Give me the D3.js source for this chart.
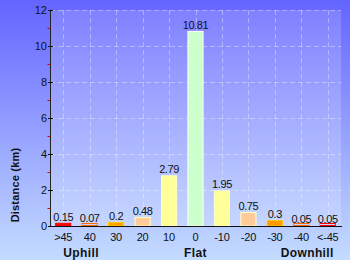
<!DOCTYPE html>
<html lang="en">
<head>
    <meta charset="UTF-8">
    <title>Distance by gradient</title>
    <style>
        body { margin: 0; overflow: hidden; }
        svg { display: block; font-family: 'Liberation Sans', Arial, sans-serif; }
        .grid line { stroke: rgba(255, 255, 255, 0.35); stroke-width: 1; stroke-dasharray: 5 3; }
        .tick-label { font-size: 11px; fill: #111; }
        .value { font-size: 11px; fill: #111; letter-spacing: -0.4px; }
        .group { font-size: 12px; font-weight: bold; fill: #111; letter-spacing: 0.4px; }
    </style>
</head>
<body>
    <svg id="chart" width="350" height="260">
        <defs>
            <linearGradient id="bg" x1="0" y1="0" x2="0" y2="1">
                <stop offset="0%" stop-color="#6464ff" />
                <stop offset="100%" stop-color="#c4dcff" />
            </linearGradient>
            <linearGradient id="plotBg" x1="0" y1="0" x2="0" y2="1">
                <stop offset="0%" stop-color="#ffffff" stop-opacity="0.16" />
                <stop offset="100%" stop-color="#ffffff" stop-opacity="0.2" />
            </linearGradient>
        </defs>
    </svg>
    <script src="https://d3js.org/d3.v7.min.js"></script>
    <script>
        // data
        const categories = [">45", "40", "30", "20", "10", "0", "-10", "-20", "-30", "-40", "<-45"];
        const distances = [0.15, 0.07, 0.2, 0.48, 2.79, 10.81, 1.95, 0.75, 0.3, 0.05, 0.05];
        const barColors = ["#ff0000", "#ff6600", "#ffa000", "#ffcc99", "#ffff99", "#ccffcc",
                           "#ffff99", "#ffcc99", "#ff9900", "#ff6600", "#ff0000"];
        const yTicks = [0, 2, 4, 6, 8, 10, 12];
        const yMinorTicks = [1, 3, 5, 7, 9, 11];
        const groupLabels = ["Uphill", "Flat", "Downhill"];

        const svg = d3.select("#chart"),
            width = 350,
            height = 260,
            margin = {top: 10, right: 9, bottom: 34, left: 50},
            plotW = width - margin.left - margin.right,
            plotH = height - margin.top - margin.bottom;

        svg.append("rect").attr("width", width).attr("height", height).attr("fill", "url(#bg)");

        const g = svg.append("g").attr("transform", `translate(${margin.left},${margin.top})`);

        const x = d3.scaleBand().domain(categories).range([0, plotW]).paddingInner(0.39).paddingOuter(0.195);
        const y = d3.scaleLinear().domain([0, 12]).range([plotH, 0]);
        const xc = d => x(d) + x.bandwidth() / 2;

        // plot background
        g.append("rect").attr("width", plotW).attr("height", plotH).attr("fill", "url(#plotBg)");

        // grid
        const grid = g.append("g").attr("class", "grid");
        grid.selectAll(".h").data(yTicks.filter(d => d > 0)).enter().append("line")
            .attr("x1", 0).attr("x2", plotW)
            .attr("y1", d => y(d) + 0.5).attr("y2", d => y(d) + 0.5);
        grid.selectAll(".v").data(categories).enter().append("line")
            .attr("x1", d => Math.round(xc(d)) + 0.5).attr("x2", d => Math.round(xc(d)) + 0.5)
            .attr("y1", 0).attr("y2", plotH);

        // bars - very short ones only show their coloured outline
        const tiny = d => plotH - y(d) < 2;
        g.selectAll(".bar").data(distances).enter().append("rect")
            .attr("x", (d, i) => x(categories[i]) + 0.5)
            .attr("y", d => tiny(d) ? plotH - 2.5 : y(d))
            .attr("width", x.bandwidth() - 1)
            .attr("height", d => tiny(d) ? 2 : plotH - y(d))
            .attr("fill", (d, i) => tiny(d) ? "none" : barColors[i])
            .attr("stroke", (d, i) => tiny(d) ? barColors[i] : d3.color(barColors[i]).brighter(0.7))
            .attr("stroke-width", 1);

        // value labels
        g.selectAll(".value").data(distances).enter().append("text")
            .attr("class", "value")
            .attr("x", (d, i) => xc(categories[i]))
            .attr("y", d => y(d) - 2.5)
            .attr("text-anchor", "middle")
            .text(d => d);

        // y axis
        const yAxis = g.append("g");
        yAxis.append("line").attr("x1", 0.5).attr("x2", 0.5).attr("y1", 0).attr("y2", plotH)
            .attr("stroke", "#222");
        yAxis.selectAll(".major").data(yTicks).enter().append("line")
            .attr("x1", -2).attr("x2", 3)
            .attr("y1", d => y(d) + 0.5).attr("y2", d => y(d) + 0.5)
            .attr("stroke", "#111");
        yAxis.selectAll(".minor").data(yMinorTicks).enter().append("line")
            .attr("x1", -2.5).attr("x2", 0)
            .attr("y1", d => y(d) + 0.5).attr("y2", d => y(d) + 0.5)
            .attr("stroke", "#e00000");
        yAxis.selectAll(".ylab").data(yTicks).enter().append("text")
            .attr("class", "tick-label")
            .attr("x", -3).attr("y", d => y(d) + 4)
            .attr("text-anchor", "end")
            .text(d => d);

        // x axis
        const xAxis = g.append("g").attr("transform", `translate(0,${plotH})`);
        xAxis.append("line").attr("x1", 0).attr("x2", plotW + 1).attr("y1", 0.5).attr("y2", 0.5)
            .attr("stroke", "#111");
        xAxis.selectAll(".xlab").data(categories).enter().append("text")
            .attr("class", "tick-label")
            .attr("x", d => xc(d)).attr("y", 15)
            .attr("text-anchor", "middle")
            .style("letter-spacing", "-0.2px")
            .text(d => d);

        // group labels under the axis: left one starts at the first bar, right one ends at the last band
        const first = categories[0], mid = categories[5], last = categories[categories.length - 1];
        const groupPos = [
            {x: xc(first), anchor: "start"},
            {x: xc(mid), anchor: "middle"},
            {x: x(last) + x.bandwidth() - 2, anchor: "end"}
        ];
        g.selectAll(".group").data(groupLabels).enter().append("text")
            .attr("class", "group")
            .attr("x", (d, i) => groupPos[i].x)
            .attr("y", plotH + 31)
            .attr("text-anchor", (d, i) => groupPos[i].anchor)
            .text(d => d);

        // y title
        svg.append("text")
            .attr("class", "group")
            .attr("transform", "translate(19,185) rotate(-90)")
            .attr("text-anchor", "middle")
            .style("font-size", "11px")
            .style("letter-spacing", "0.2px")
            .text("Distance (km)");
    </script>
</body>
</html>
